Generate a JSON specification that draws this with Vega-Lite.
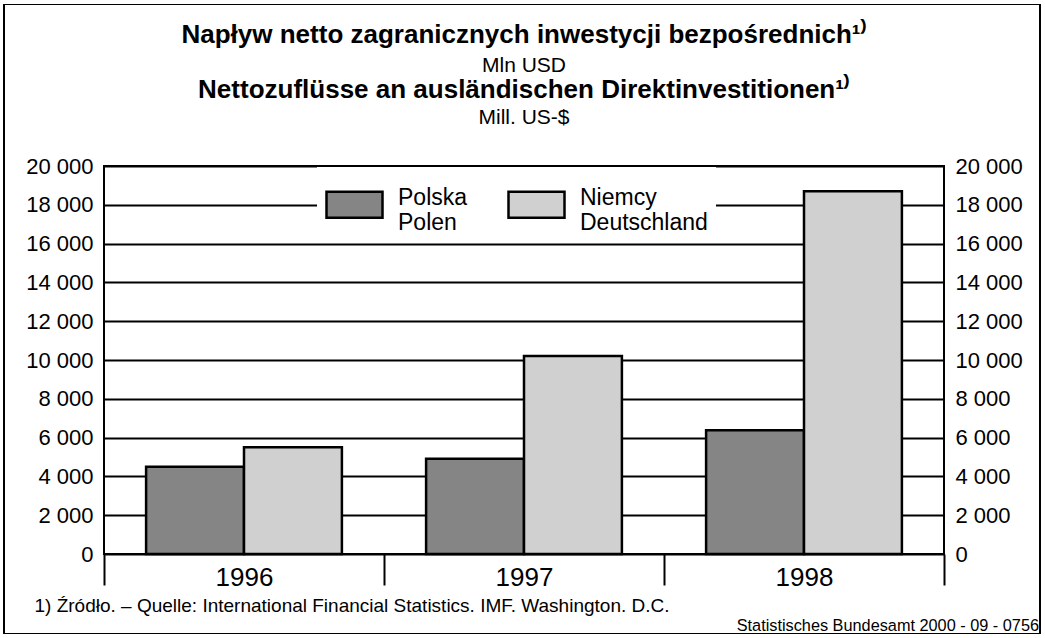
{
  "$schema": "https://vega.github.io/schema/vega-lite/v6.json",
  "padding": {"left": 3, "top": 4, "right": 4, "bottom": 2},
  "background": "white",
  "config": {
    "font": "Liberation Sans",
    "view": {"stroke": "black", "strokeWidth": 2},
    "title": {"color": "black", "subtitleColor": "black", "subtitleFont": "Liberation Sans", "font": "Liberation Sans"}
  },
  "title": {
    "text": "Statistisches Bundesamt 2000 - 09 - 0756",
    "orient": "bottom",
    "anchor": "end",
    "fontSize": 16.3,
    "fontWeight": "normal",
    "offset": -16,
    "dx": -2
  },
  "vconcat": [
    {
      "title": {
        "text": "Napływ netto zagranicznych inwestycji bezpośrednich¹⁾",
        "subtitle": "Mln USD",
        "fontSize": 26,
        "fontWeight": "bold",
        "subtitleFontSize": 21,
        "subtitlePadding": 7,
        "anchor": "middle",
        "offset": 0
      },
      "vconcat": [
        {
          "title": {
            "text": "Nettozuflüsse an ausländischen Direktinvestitionen¹⁾",
            "subtitle": "Mill. US-$",
            "fontSize": 26,
            "fontWeight": "bold",
            "subtitleFontSize": 21,
            "subtitlePadding": 4,
            "anchor": "middle",
            "offset": 27
          },
          "width": 840,
          "height": 388,
          "data": {
            "values": [
              {"year": "1996", "country": "Polska|Polen", "value": 4500},
              {"year": "1996", "country": "Niemcy|Deutschland", "value": 5500},
              {"year": "1997", "country": "Polska|Polen", "value": 4910},
              {"year": "1997", "country": "Niemcy|Deutschland", "value": 10200},
              {"year": "1998", "country": "Polska|Polen", "value": 6380},
              {"year": "1998", "country": "Niemcy|Deutschland", "value": 18700}
            ]
          },
          "encoding": {
            "x": {
              "field": "year",
              "type": "nominal",
              "scale": {"paddingInner": 0, "paddingOuter": 0},
              "axis": {
                "orient": "bottom",
                "domain": false,
                "ticks": true,
                "tickBand": "extent",
                "tickSize": 31,
                "tickWidth": 2,
                "tickColor": "black",
                "labelFontSize": 26,
                "labelPadding": -21,
                "labelColor": "black",
                "labelAngle": 0,
                "title": "1)  Źródło. – Quelle: International Financial Statistics. IMF. Washington. D.C.",
                "titleFontSize": 19,
                "titleFontWeight": "normal",
                "titleColor": "black",
                "titleX": -70,
                "titleY": 57,
                "titleAlign": "left",
                "titleBaseline": "alphabetic"
              }
            },
            "y": {
              "field": "value",
              "type": "quantitative",
              "scale": {"domain": [0, 20000], "nice": false}
            }
          },
          "layer": [
            {
              "mark": {"type": "bar", "stroke": "black", "strokeWidth": 2.5, "opacity": 1},
              "encoding": {
                "xOffset": {
                  "field": "country",
                  "type": "nominal",
                  "sort": ["Polska|Polen", "Niemcy|Deutschland"],
                  "scale": {"paddingInner": 0, "paddingOuter": 0.43}
                },
                "y": {
                  "field": "value",
                  "type": "quantitative",
                  "scale": {"domain": [0, 20000], "nice": false},
                  "axis": {
                    "orient": "left",
                    "values": [0, 2000, 4000, 6000, 8000, 10000, 12000, 14000, 16000, 18000, 20000],
                    "grid": true,
                    "gridColor": "black",
                    "gridWidth": 2,
                    "gridOpacity": 1,
                    "domain": false,
                    "ticks": false,
                    "labelFontSize": 22,
                    "labelPadding": 11,
                    "labelColor": "black",
                    "labelExpr": "replace(format(datum.value, ','), ',', ' ')",
                    "title": null
                  }
                },
                "fill": {
                  "field": "country",
                  "type": "nominal",
                  "sort": ["Polska|Polen", "Niemcy|Deutschland"],
                  "scale": {"domain": ["Polska|Polen", "Niemcy|Deutschland"], "range": ["#858585", "#d0d0d0"]},
                  "legend": {
                    "orient": "none",
                    "legendX": 213,
                    "legendY": 1,
                    "direction": "horizontal",
                    "columns": 2,
                    "title": null,
                    "fillColor": "white",
                    "padding": 8,
                    "symbolType": "M-1,-0.464H1V0.464H-1Z",
                    "symbolSize": 3136,
                    "symbolStrokeColor": "black",
                    "symbolStrokeWidth": 2.5,
                    "symbolOpacity": 1,
                    "labelFontSize": 23,
                    "labelOffset": 14,
                    "labelBaseline": "alphabetic",
                    "columnPadding": 35,
                    "labelColor": "black",
                    "labelLimit": 300,
                    "labelExpr": "split(datum.label, '|')"
                  }
                }
              }
            },
            {
              "mark": {"type": "point", "opacity": 0},
              "encoding": {
                "y": {
                  "field": "value",
                  "type": "quantitative",
                  "scale": {"domain": [0, 20000], "nice": false},
                  "axis": {
                    "orient": "right",
                    "values": [0, 2000, 4000, 6000, 8000, 10000, 12000, 14000, 16000, 18000, 20000],
                    "grid": false,
                    "domain": false,
                    "ticks": false,
                    "labelFontSize": 22,
                    "labelPadding": 11,
                    "labelColor": "black",
                    "labelExpr": "replace(format(datum.value, ','), ',', ' ')",
                    "title": null
                  }
                },
                "shape": {
                  "datum": "frame",
                  "scale": {"range": ["M-1,-0.608H1V0.608H-1Z"]},
                  "legend": {
                    "orient": "none",
                    "legendX": -101,
                    "legendY": -162,
                    "title": null,
                    "padding": 0,
                    "clipHeight": 630,
                    "symbolSize": 1073296,
                    "symbolFillColor": "transparent",
                    "symbolStrokeColor": "black",
                    "symbolStrokeWidth": 2,
                    "symbolOpacity": 1,
                    "labelOffset": 0,
                    "labelExpr": "''"
                  }
                }
              }
            }
          ],
          "resolve": {"axis": {"y": "independent"}}
        }
      ]
    }
  ]
}
